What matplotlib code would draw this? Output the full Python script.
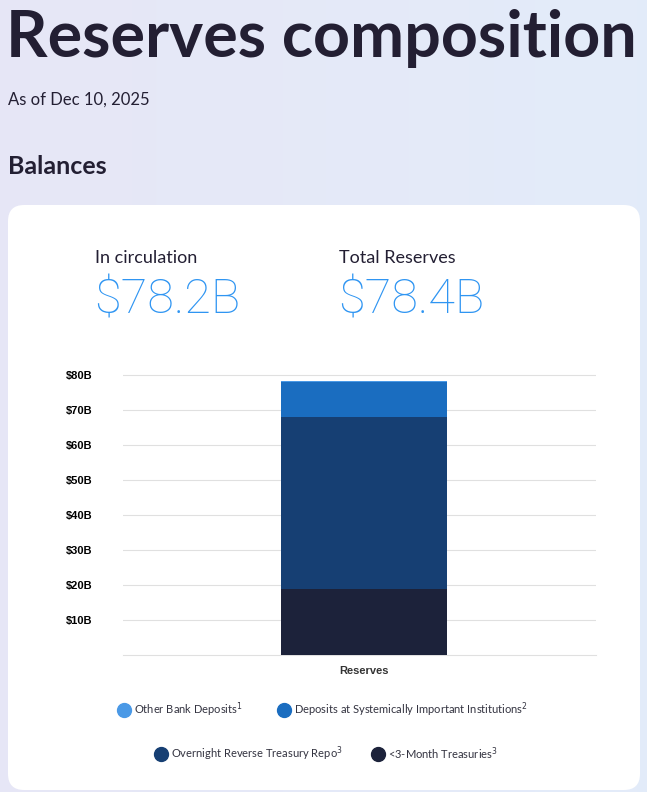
import matplotlib.pyplot as plt
from matplotlib.patches import FancyBboxPatch
from matplotlib.lines import Line2D
import numpy as np

# data
categories = ["Reserves"]
series_labels = [
    "<3-Month Treasuries$^{3}$",
    "Overnight Reverse Treasury Repo$^{3}$",
    "Deposits at Systemically Important Institutions$^{2}$",
    "Other Bank Deposits$^{1}$",
]
series_values = [18.9, 49.1, 10.0, 0.4]
series_colors = ["#1c223a", "#163f73", "#1a6dc0", "#4a99e6"]
yticks = [10, 20, 30, 40, 50, 60, 70, 80]
in_circulation = "$78.2B"
total_reserves = "$78.4B"

W, H = 647, 792
fig = plt.figure(figsize=(W / 100, H / 100), dpi=100)

# background gradient
bg = fig.add_axes([0, 0, 1, 1], zorder=-5)
grad = np.linspace(0, 1, 256)
c0 = np.array([0.905, 0.905, 0.965])
c1 = np.array([0.890, 0.925, 0.980])
img = c0[None, None, :] * (1 - grad)[None, :, None] + c1[None, None, :] * grad[None, :, None]
img = np.repeat(img, 2, axis=0)
bg.imshow(img, aspect="auto", extent=[0, 1, 0, 1])
bg.set_xlim(0, 1)
bg.set_ylim(0, 1)
bg.axis("off")

card = FancyBboxPatch((8 / W, 2 / H), 632 / W, (790 - 205) / H,
                      boxstyle="round,pad=0,rounding_size=0.025",
                      transform=fig.transFigure, facecolor="white", edgecolor="none",
                      mutation_aspect=W / H, zorder=-1)
fig.add_artist(card)

dark = "#231f33"
fig.text(6 / W, 1 - 38 / H, "Reserves composition", fontsize=46.5, fontweight="bold",
         family="Lato", color=dark, va="center", ha="left")
fig.text(8 / W, 1 - 100 / H, "As of Dec 10, 2025", fontsize=12, family="Lato",
         color=dark, va="center")
fig.text(8 / W, 1 - 167 / H, "Balances", fontsize=18, fontweight="bold", family="Lato",
         color=dark, va="center")
fig.text(95 / W, 1 - 258 / H, "In circulation", fontsize=13, family="Lato", color=dark, va="center")
fig.text(339 / W, 1 - 258 / H, "Total Reserves", fontsize=13, family="Lato", color=dark, va="center")
fig.text(94 / W, 1 - 300 / H, in_circulation, fontsize=35, family="Roboto", fontweight="light",
         color="#2f95f2", va="center")
fig.text(338 / W, 1 - 300 / H, total_reserves, fontsize=35, family="Roboto", fontweight="light",
         color="#2f95f2", va="center")

# chart
ax = fig.add_axes([123 / W, 137 / H, 473 / W, 290.5 / H], zorder=2)
bottom = 0
for val, col in zip(series_values, series_colors):
    ax.bar(categories, [val], bottom=bottom, color=col, width=0.355, zorder=3)
    bottom += val
ax.set_xlim(-0.514, 0.496)
ax.set_ylim(0, 83)
ax.set_yticks(yticks)
ax.set_yticklabels([f"${v}B" for v in yticks], fontsize=8, fontweight="bold", family="Liberation Sans")
ax.tick_params(axis="y", length=0, pad=22)
ax.tick_params(axis="x", length=0, pad=8)
for lab in ax.get_xticklabels():
    lab.set_fontsize(8)
    lab.set_fontweight("bold")
    lab.set_family("Liberation Sans")
    lab.set_color("#333333")
ax.grid(axis="y", color="#e0e0e0", linewidth=0.8, zorder=0)
for s in ["top", "right", "left"]:
    ax.spines[s].set_visible(False)
ax.spines["bottom"].set_color("#e0e0e0")
ax.set_facecolor("none")

# legend (manual)
legend_rows = [
    [(3, 124, 710), (2, 284, 710)],
    [(1, 161, 754), (0, 378, 754)],
]
for row in legend_rows:
    for idx, x, y in row:
        fig.add_artist(Line2D([x / W], [1 - y / H], marker="o", markersize=10,
                              color=series_colors[idx], transform=fig.transFigure))
        fig.text((x + 10) / W, 1 - y / H, series_labels[idx], fontsize=8, family="Lato",
                 color="#333340", va="center")

fig.savefig("out.png", dpi=100)
